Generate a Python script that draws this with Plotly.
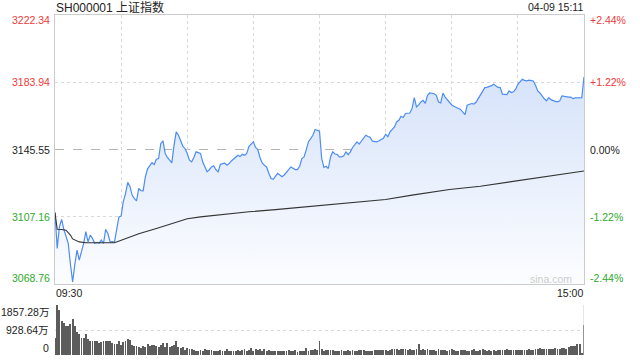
import plotly.graph_objects as go

# ---------------- data ----------------
title_text = "SH000001 上证指数"
time_text = "04-09 15:11"
watermark = "sina.com"
prev_close = 3145.55
price_ticks = [3222.34, 3183.94, 3145.55, 3107.16, 3068.76]
pct_labels = ["+2.44%", "+1.22%", "0.00%", "-1.22%", "-2.44%"]
vol_ticks = [1857.28, 928.64, 0]
vol_labels = ["1857.28万", "928.64万", "0"]
x_tick_labels = ["09:30", "15:00"]
x_grid_minutes = [30, 60, 90, 120, 150, 180, 210]

price = [
    3109.6, 3089.1, 3101.4, 3105.6, 3100.0, 3096.0, 3092.0, 3080.0, 3070.0, 3080.0,
    3088.1, 3082.4, 3086.6, 3092.0, 3098.6, 3092.8, 3096.7, 3094.8, 3092.0, 3092.5,
    3092.0, 3093.8, 3092.0, 3099.9, 3097.6, 3092.8, 3093.0, 3092.8, 3100.0, 3107.1,
    3107.5, 3116.0, 3120.4, 3126.8, 3124.5, 3119.5, 3117.5, 3116.2, 3123.3, 3122.0,
    3121.9, 3130.0, 3134.5, 3136.6, 3138.0, 3137.0, 3140.0, 3140.4, 3149.0, 3150.5,
    3143.3, 3141.0, 3139.5, 3137.9, 3148.0, 3155.6, 3153.7, 3150.0, 3147.5, 3146.0,
    3143.3, 3139.5, 3138.5, 3141.0, 3144.2, 3143.8, 3143.3, 3138.5, 3136.0, 3132.8,
    3134.0, 3135.6, 3136.2, 3134.0, 3132.8, 3137.0, 3137.5, 3137.7, 3136.6, 3137.5,
    3139.0, 3140.0, 3141.3, 3142.3, 3141.5, 3142.8, 3142.3, 3143.3, 3147.4, 3148.5,
    3149.9, 3146.7, 3145.5, 3141.0, 3137.9, 3136.5, 3135.6, 3132.0, 3129.0, 3128.5,
    3130.0, 3131.9, 3131.0, 3130.0, 3131.0, 3132.3, 3134.0, 3135.6, 3135.0, 3134.1,
    3134.1, 3136.0, 3140.4, 3141.3, 3145.5, 3150.0, 3151.8, 3153.7, 3157.0, 3156.5,
    3156.0, 3140.4, 3135.3, 3136.0, 3134.7, 3141.3, 3144.2, 3143.0, 3142.8, 3141.3,
    3141.3, 3142.0, 3144.2, 3142.6, 3144.2, 3146.7, 3148.0, 3149.9, 3148.6, 3150.5,
    3151.8, 3153.7, 3153.0, 3152.5, 3150.3, 3150.0, 3149.9, 3150.5, 3151.1, 3152.0,
    3154.3, 3152.9, 3155.6, 3157.0, 3158.4, 3161.3, 3162.2, 3164.5, 3163.8, 3166.1,
    3166.2, 3166.4, 3169.0, 3175.2, 3169.9, 3171.0, 3172.7, 3173.6, 3171.9, 3176.5,
    3177.8, 3177.6, 3177.4, 3176.5, 3172.7, 3172.2, 3177.8, 3175.5, 3174.0, 3172.7,
    3171.0, 3170.2, 3169.4, 3169.0, 3168.4, 3167.1, 3165.5, 3170.8, 3171.5, 3171.8,
    3171.5, 3172.5, 3174.6, 3176.8, 3178.5, 3180.9, 3181.0, 3181.3, 3182.0, 3182.8,
    3181.7, 3181.0, 3180.9, 3177.1, 3177.0, 3176.9, 3179.0, 3178.1, 3178.5, 3180.0,
    3182.8, 3184.0, 3185.6, 3185.0, 3184.7, 3185.1, 3185.0, 3184.7, 3182.2, 3179.0,
    3177.8, 3176.0, 3174.5, 3173.3, 3175.2, 3174.0, 3173.3, 3173.0, 3172.7, 3173.3,
    3176.1, 3175.8, 3175.5, 3175.5, 3175.5, 3174.6, 3175.0, 3175.0, 3175.0, 3175.2,
    3187.0,
]

avg_minutes = [0, 1, 3, 5, 7, 8, 11, 14, 27, 29, 33, 38, 46, 53, 60, 66, 73, 81, 88,
               100, 111, 120, 135, 150, 162, 179, 193, 209, 225, 240]
avg_values = [3109.6, 3100.0, 3099.9, 3099.5, 3096.7, 3094.5, 3092.8, 3092.3, 3092.3,
              3093.2, 3095.3, 3097.4, 3100.5, 3103.3, 3106.0, 3107.1, 3108.1, 3109.3,
              3110.0, 3111.2, 3112.5, 3113.8, 3115.5, 3117.0, 3119.5, 3122.7, 3124.6,
              3127.6, 3130.3, 3133.3]

volume = [
    650, 1857, 1671, 1263, 1176, 1077, 1077, 1151, 1337, 1077,
    867, 780, 644, 644, 768, 582, 532, 520, 520, 520,
    433, 483, 520, 520, 520, 520, 433, 408, 408, 532,
    371, 483, 520, 594, 557, 359, 334, 334, 285, 248,
    347, 310, 408, 347, 371, 371, 334, 310, 371, 433,
    310, 458, 310, 334, 371, 520, 310, 248, 285, 186,
    248, 210, 210, 186, 161, 161, 186, 161, 210, 186,
    186, 186, 161, 136, 161, 186, 136, 161, 223, 161,
    136, 161, 161, 186, 161, 186, 223, 161, 186, 272,
    161, 223, 186, 210, 161, 210, 161, 186, 161, 136,
    161, 136, 136, 161, 136, 161, 186, 136, 136, 186,
    111, 161, 161, 161, 248, 161, 186, 186, 210, 186,
    520, 210, 161, 186, 186, 186, 173, 161, 160, 150,
    170, 160, 150, 175, 165, 170, 150, 140, 185, 175,
    180, 165, 160, 140, 150, 200, 175, 190, 200, 185,
    175, 140, 200, 215, 220, 210, 200, 230, 210, 225,
    200, 210, 180, 170, 215, 400, 200, 205, 190, 215,
    180, 175, 200, 165, 210, 190, 175, 200, 150, 170,
    210, 180, 150, 160, 170, 195, 175, 150, 165, 175,
    210, 160, 155, 185, 205, 170, 160, 175, 155, 170,
    150, 180, 195, 200, 175, 240, 170, 190, 195, 170,
    180, 200, 175, 190, 200, 215, 185, 200, 210, 230,
    260, 230, 225, 230, 240, 225, 230, 245, 235, 240,
    250, 260, 240, 300, 330, 320, 350, 410, 420, 60,
    1100,
]
assert len(price) == 241 and len(volume) == 241
minutes = list(range(241))

# ---------------- styling ----------------
W, H = 640, 360
X0, X1 = 55, 584
MAIN_T, MAIN_B = 15, 284
VOL_T, VOL_B = 305, 355
FONT = "Liberation Sans, Arial, Noto Sans CJK SC, sans-serif"
RED, GREEN, DARK = "#ee3a3a", "#2aaa2a", "#222222"
GRID = "#d9d9d9"
BORDER = "#cccccc"

fig = go.Figure()

fig.add_trace(go.Scatter(
    x=minutes, y=price, mode="lines",
    line=dict(color="#4d8cf4", width=1.2),
    fill="tozeroy",
    fillgradient=dict(type="vertical",
                      colorscale=[[0, "#fcfdff"], [1, "#d6e3fa"]],
                      start=price_ticks[-1], stop=max(price)),
    hoverinfo="skip", xaxis="x", yaxis="y",
))
fig.add_trace(go.Scatter(
    x=avg_minutes, y=avg_values, mode="lines",
    line=dict(color="#333333", width=1.1),
    hoverinfo="skip", xaxis="x", yaxis="y",
))
fig.add_trace(go.Bar(
    x=minutes, y=volume, width=0.4,
    marker=dict(color="#5c5c5c", line=dict(width=0)),
    hoverinfo="skip", xaxis="x2", yaxis="y2",
))

xdom = [X0 / W, X1 / W]
fig.update_layout(
    width=W, height=H,
    margin=dict(l=0, r=0, t=0, b=0),
    paper_bgcolor="white", plot_bgcolor="rgba(0,0,0,0)",
    showlegend=False, bargap=0,
    font=dict(family=FONT, size=10.5, color=DARK),
    xaxis=dict(domain=xdom, range=[0, 240], anchor="y",
               showgrid=True, gridcolor=GRID, griddash="dot", gridwidth=1,
               tickvals=x_grid_minutes, showticklabels=False, ticks="",
               showline=True, linecolor=BORDER, linewidth=1, mirror=True,
               zeroline=False, fixedrange=True),
    yaxis=dict(domain=[1 - MAIN_B / H, 1 - MAIN_T / H],
               range=[price_ticks[-1], price_ticks[0]], anchor="x",
               showgrid=True, gridcolor=GRID, griddash="dot", gridwidth=1,
               tickvals=[price_ticks[1], price_ticks[3]], showticklabels=False, ticks="",
               showline=True, linecolor=BORDER, linewidth=1, mirror=True,
               zeroline=False, fixedrange=True),
    xaxis2=dict(domain=xdom, range=[0, 240], anchor="y2",
                showgrid=False, showticklabels=False, ticks="",
                showline=False, zeroline=False, fixedrange=True),
    yaxis2=dict(domain=[1 - VOL_B / H, 1 - VOL_T / H],
                range=[0, vol_ticks[0]], anchor="x2",
                showgrid=True, gridcolor=GRID, griddash="dot", gridwidth=1,
                tickvals=vol_ticks[:2], showticklabels=False, ticks="",
                showline=False, zeroline=False, fixedrange=True),
)

# previous-close dashed line
fig.add_shape(type="line", xref="x", yref="y", x0=0, x1=240,
              y0=prev_close, y1=prev_close,
              line=dict(color="#b4b4b4", width=1, dash="dash"), layer="below")
# volume panel right border
fig.add_shape(type="line", xref="x2", yref="y2", x0=240, x1=240,
              y0=0, y1=vol_ticks[0], line=dict(color=BORDER, width=1))

ann = []
shifts = [-5, 0, 0, 0, 6]
for v, pl, s in zip(price_ticks, pct_labels, shifts):
    col = RED if v > prev_close else (GREEN if v < prev_close else DARK)
    ann.append(dict(xref="paper", x=(X0 - 3) / W, xanchor="right",
                    yref="y", y=v, yanchor="middle", yshift=s,
                    text=f"{v:.2f}", showarrow=False,
                    font=dict(size=10.5, color=col)))
    ann.append(dict(xref="paper", x=(X1 + 4) / W, xanchor="left",
                    yref="y", y=v, yanchor="middle", yshift=s,
                    text=pl, showarrow=False,
                    font=dict(size=10.5, color=col)))

vshifts = [-6.5, 0, 7]
for v, lbl, s in zip(vol_ticks, vol_labels, vshifts):
    ann.append(dict(xref="paper", x=(X0 - 4) / W, xanchor="right",
                    yref="y2", y=v, yanchor="middle", yshift=s,
                    text=lbl, showarrow=False,
                    font=dict(size=10.5, color=DARK)))

ann.append(dict(xref="x", x=0, xanchor="left", xshift=-1,
                yref="paper", y=1 - 293 / H, yanchor="middle",
                text=x_tick_labels[0], showarrow=False,
                font=dict(size=10.5, color=DARK)))
ann.append(dict(xref="x", x=240, xanchor="right", xshift=1,
                yref="paper", y=1 - 293 / H, yanchor="middle",
                text=x_tick_labels[1], showarrow=False,
                font=dict(size=10.5, color=DARK)))

ann.append(dict(xref="paper", x=X0 / W, xanchor="left", xshift=-1,
                yref="paper", y=1 - 7.5 / H, yanchor="middle",
                text=title_text, showarrow=False,
                font=dict(size=12, color=DARK)))
ann.append(dict(xref="paper", x=X1 / W, xanchor="right", xshift=1,
                yref="paper", y=1 - 7 / H, yanchor="middle",
                text=time_text, showarrow=False,
                font=dict(size=10.5, color=DARK)))
ann.append(dict(xref="paper", x=(X1 - 10) / W, xanchor="right",
                yref="paper", y=1 - 279 / H, yanchor="middle",
                text=watermark, showarrow=False,
                font=dict(size=10.5, color="#cccccc")))

fig.update_layout(annotations=ann)
fig.write_html(
    "out.html",
    config={"displayModeBar": False},
    post_script="document.body.style.margin='0';document.body.style.overflow='hidden';",
)
